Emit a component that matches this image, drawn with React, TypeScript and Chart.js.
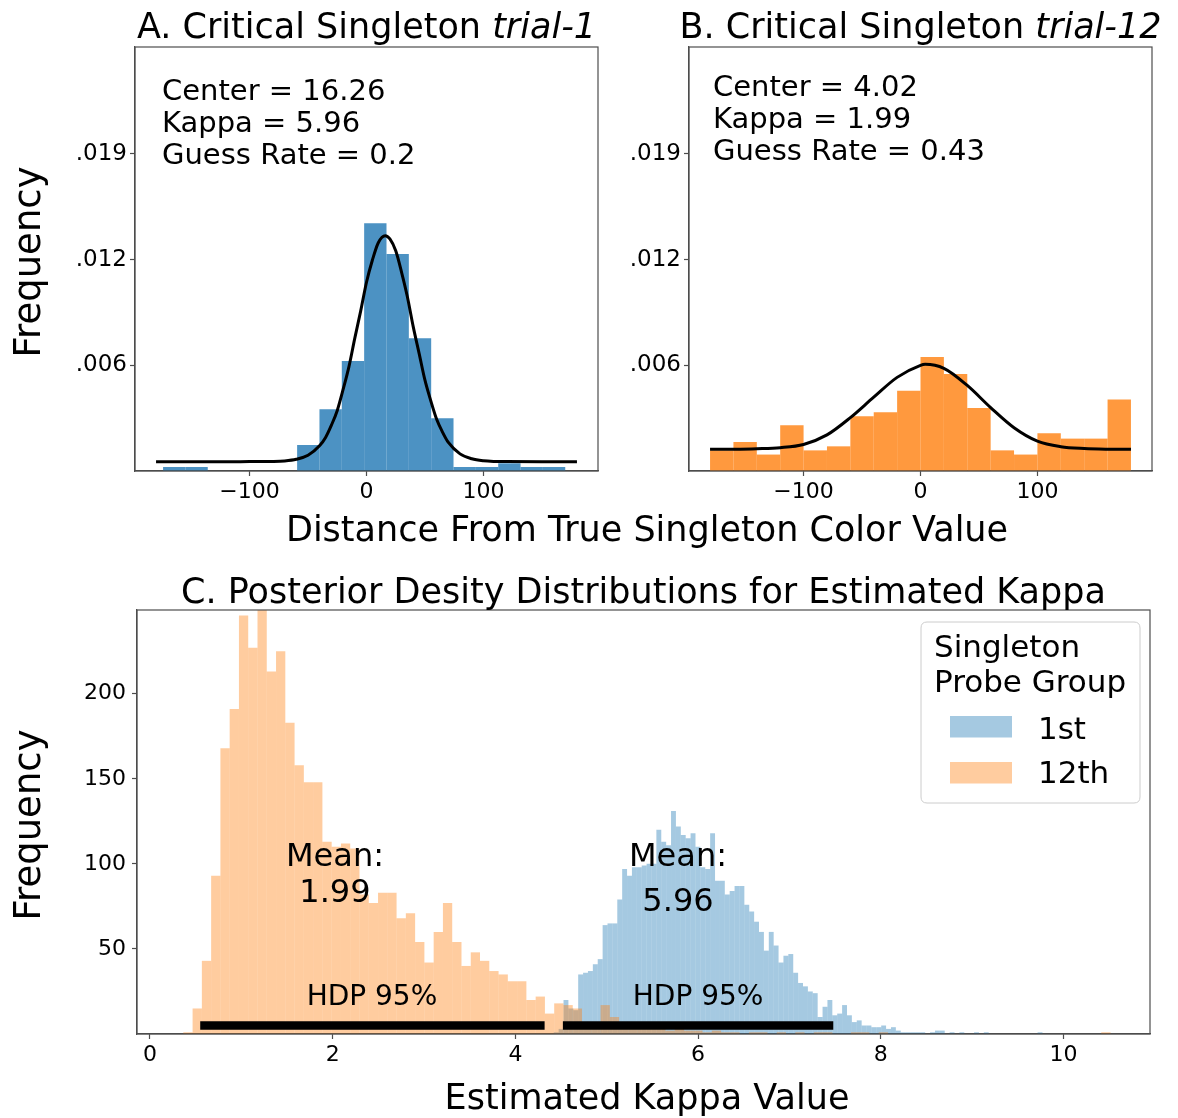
import React, { useEffect, useRef } from 'react';
import { Chart, registerables } from 'chart.js';

Chart.register(...registerables);

const FONT = "'DejaVu Sans', Verdana, sans-serif";
const PAGE_W = 1178;
const PAGE_H = 1118;

// ---------------- Panel A (trial-1) ----------------
const titleA = 'A. Critical Singleton ';
const titleItalicA = 'trial-1';
const statsA = ['Center = 16.26', 'Kappa = 5.96', 'Guess Rate = 0.2'];
const binStartA = -174;
const binWidthA = 19.11;
const countsA = [0.00024, 0.00024, 0, 0, 0, 0, 0.00155, 0.00368, 0.00656, 0.01476, 0.01293, 0.00791, 0.00314, 0.00024, 0.00024, 0.00046, 0.00024, 0.00024];
const curveXA = [-180, -150, -120, -100, -80, -70, -60, -50, -40, -35, -30, -25, -20, -15, -10, -5, 0, 5, 10, 16, 20, 25, 30, 35, 40, 45, 50, 55, 60, 65, 70, 80, 90, 100, 110, 120, 150, 180];
const curveYA = [0.00055, 0.00055, 0.00055, 0.00056, 0.00057, 0.0006, 0.0007, 0.00094, 0.00152, 0.002, 0.00273, 0.00361, 0.00486, 0.00622, 0.00792, 0.00953, 0.01125, 0.01256, 0.01359, 0.01402, 0.01383, 0.01312, 0.01184, 0.01037, 0.00859, 0.00701, 0.00541, 0.00418, 0.00308, 0.00232, 0.0017, 0.00102, 0.00073, 0.00061, 0.00057, 0.00056, 0.00055, 0.00055];

// ---------------- Panel B (trial-12) ----------------
const titleB = 'B. Critical Singleton ';
const titleItalicB = 'trial-12';
const statsB = ['Center = 4.02', 'Kappa = 1.99', 'Guess Rate = 0.43'];
const binStartB = -180;
const binWidthB = 20;
const countsB = [0.00123, 0.00173, 0.00098, 0.00272, 0.00123, 0.00147, 0.00326, 0.0035, 0.00479, 0.00679, 0.00578, 0.00375, 0.00123, 0.00098, 0.00225, 0.00193, 0.00193, 0.00426];
const curveXB = [-180, -160, -140, -120, -100, -80, -60, -40, -20, 0, 4, 20, 40, 60, 80, 100, 120, 140, 160, 180];
const curveYB = [0.00129, 0.0013, 0.00133, 0.00139, 0.00158, 0.00215, 0.00318, 0.0044, 0.00558, 0.0063, 0.00636, 0.00612, 0.0051, 0.00378, 0.00258, 0.00178, 0.00145, 0.00134, 0.0013, 0.00129];

// shared A/B axes
const xMinAB = -198;
const xMaxAB = 198;
const yMaxAB = 0.02527;
const xTicksAB = [-100, 0, 100];
const yTicksAB = [0.0063, 0.0126, 0.0189];
const yTickLabelsAB = ['.006', '.012', '.019'];
const xLabelAB = 'Distance From True Singleton Color Value';
const yLabel = 'Frequency';

// ---------------- Panel C ----------------
const titleC = 'C. Posterior Desity Distributions for Estimated Kappa';
const xLabelC = 'Estimated Kappa Value';
const binStart12 = 0.365;
const binWidth12 = 0.1015;
const counts12 = [
  1, 15, 43, 93, 168, 191, 246, 227, 255, 213,
  225, 183, 158, 148, 148, 113, 110, 112, 109, 82,
  77, 83, 83, 68, 71, 54, 42, 60, 77, 54,
  40, 48, 43, 37, 35, 31, 31, 20, 22, 12,
  18, 17, 15, 7, 7, 17, 10, 5, 6, 4,
  4, 3, 2, 3, 2, 2, 1, 2, 1, 1,
  0, 1, 1, 0, 1, 0, 1, 0, 1, 1,
  0, 0, 1, 1, 0, 1, 0, 0, 0, 0,
  0, 0, 0, 0, 0, 0, 0, 0, 0, 0,
  0, 0, 0, 0, 0, 0, 0, 0, 0, 1,
];
const binStart1 = 4.42;
const binWidth1 = 0.0535;
const counts1 = [
  1, 3, 20, 15, 14, 35, 36, 37, 41, 44,
  64, 65, 65, 79, 97, 93, 98, 98, 99, 100,
  100, 120, 113, 111, 131, 122, 117, 115, 118, 110,
  98, 97, 118, 90, 90, 82, 84, 87, 87, 76,
  72, 66, 60, 49, 60, 52, 42, 46, 47, 36,
  30, 28, 25, 24, 10, 16, 20, 11, 12, 17,
  11, 7, 8, 5, 5, 4, 4, 5, 3, 4,
  2, 1, 1, 1, 1, 1, 0, 1, 2, 2,
  0, 1, 0, 1, 0, 0, 1, 0, 1, 0,
  0, 0, 0, 0, 0, 0, 0, 0, 0, 1,
];
const hdp12 = [0.55, 4.32];
const hdp1 = [4.52, 7.48];
const hdpLevel = 5;
const hdpText = 'HDP 95%';
const mean12 = '1.99';
const mean1 = '5.96';
const meanPos12 = { x: 2.025, y1: 99, y2: 77.5 };
const meanPos1 = { x: 5.78, y1: 98.6, y2: 72.2 };
const hdpTextPos = [{ x: 2.43, y: 17 }, { x: 6.0, y: 17 }];
const xMinC = -0.142;
const xMaxC = 10.947;
const yMaxC = 249.2;
const xTicksC = [0, 2, 4, 6, 8, 10];
const yTicksC = [50, 100, 150, 200];
const legendTitle = ['Singleton', 'Probe Group'];
const legendLabels = ['1st', '12th'];

// colours
const BLUE_SOLID = 'rgba(31,119,180,0.8)';
const ORANGE_SOLID = 'rgba(255,127,14,0.8)';
const BLUE_LIGHT = 'rgba(31,119,180,0.4)';
const ORANGE_LIGHT = 'rgba(255,127,14,0.4)';
const SPINE = '#4d4d4d';

// layout targets (plot areas)
const areaA = { left: 135, top: 47, right: 598, bottom: 471 };
const areaB = { left: 689, top: 47, right: 1152, bottom: 471 };
const areaC = { left: 137, top: 610, right: 1150, bottom: 1034 };
const Y_AXIS_W = 80;
const X_AXIS_H = 40;

function histPoints(start: number, width: number, counts: number[]) {
  return counts.map((c, i) => ({ x: start + width * (i + 0.5), y: c }));
}
function zipPoints(xs: number[], ys: number[]) {
  return xs.map((x, i) => ({ x, y: ys[i] }));
}

function drawFrame(ctx: CanvasRenderingContext2D, a: any) {
  ctx.save();
  ctx.strokeStyle = SPINE;
  ctx.lineWidth = 1.2;
  ctx.strokeRect(a.left, a.top, a.right - a.left, a.bottom - a.top);
  ctx.restore();
}

function drawRich(ctx: CanvasRenderingContext2D, parts: { t: string; i?: boolean }[], cx: number, y: number, size: number) {
  const fonts = parts.map((p) => `${p.i ? 'italic ' : ''}${size}px ${FONT}`);
  let total = 0;
  const widths = parts.map((p, k) => {
    ctx.font = fonts[k];
    const w = ctx.measureText(p.t).width;
    total += w;
    return w;
  });
  let x = cx - total / 2;
  ctx.textAlign = 'left';
  ctx.textBaseline = 'alphabetic';
  ctx.fillStyle = '#000';
  parts.forEach((p, k) => {
    ctx.font = fonts[k];
    ctx.fillText(p.t, x, y);
    x += widths[k];
  });
}

function drawVertical(ctx: CanvasRenderingContext2D, text: string, x: number, cy: number, size: number) {
  ctx.save();
  ctx.translate(x, cy);
  ctx.rotate(-Math.PI / 2);
  ctx.font = `${size}px ${FONT}`;
  ctx.textAlign = 'center';
  ctx.textBaseline = 'alphabetic';
  ctx.fillStyle = '#000';
  ctx.fillText(text, 0, 0);
  ctx.restore();
}

function drawText(ctx: CanvasRenderingContext2D, text: string, x: number, y: number, size: number, align: CanvasTextAlign) {
  ctx.font = `${size}px ${FONT}`;
  ctx.textAlign = align;
  ctx.textBaseline = 'alphabetic';
  ctx.fillStyle = '#000';
  ctx.fillText(text, x, y);
}

function overlay(id: string, draw: (ctx: CanvasRenderingContext2D, a: any, chart: any) => void) {
  return {
    id,
    afterDraw(chart: any) {
      const ctx = chart.ctx;
      ctx.save();
      draw(ctx, chart.chartArea, chart);
      ctx.restore();
    },
  };
}

function paddingFor(area: any) {
  return {
    left: area.left - Y_AXIS_W,
    top: area.top,
    right: PAGE_W - area.right,
    bottom: PAGE_H - area.bottom - X_AXIS_H,
  };
}

const gridTicks = {
  display: true,
  drawOnChartArea: false,
  drawTicks: true,
  tickLength: 5,
  tickWidth: 1.2,
  color: SPINE,
};
const borderOpt = { display: true, color: SPINE, width: 1.2 };
const minus = (v: any) => String(v).replace('-', '\u2212');

function configAB(which: 'A' | 'B') {
  const area = which === 'A' ? areaA : areaB;
  const bars = which === 'A' ? histPoints(binStartA, binWidthA, countsA) : histPoints(binStartB, binWidthB, countsB);
  const curve = which === 'A' ? zipPoints(curveXA, curveYA) : zipPoints(curveXB, curveYB);
  const color = which === 'A' ? BLUE_SOLID : ORANGE_SOLID;
  const title = which === 'A' ? [{ t: titleA }, { t: titleItalicA, i: true }] : [{ t: titleB }, { t: titleItalicB, i: true }];
  const stats = which === 'A' ? statsA : statsB;
  const statsDx = which === 'A' ? 27 : 24;
  const statsY0 = which === 'A' ? 53 : 49;

  const plugin = overlay('overlay' + which, (ctx, a) => {
    drawFrame(ctx, a);
    drawRich(ctx, title, (a.left + a.right) / 2, 38, 35);
    stats.forEach((s, i) => drawText(ctx, s, a.left + statsDx, a.top + statsY0 + 32 * i, 29, 'left'));
    if (which === 'A') {
      drawVertical(ctx, yLabel, 40, (a.top + a.bottom) / 2 + 3, 37);
      drawText(ctx, xLabelAB, 647, 541, 35, 'center');
    }
  });

  return {
    type: 'bar',
    data: {
      datasets: [
        {
          type: 'line',
          data: curve,
          borderColor: '#000',
          borderWidth: 3,
          pointRadius: 0,
          fill: false,
          cubicInterpolationMode: 'monotone',
          order: 0,
        },
        {
          type: 'bar',
          data: bars,
          backgroundColor: color,
          borderWidth: 0,
          inflateAmount: 0,
          barPercentage: 1,
          categoryPercentage: 1,
          grouped: false,
          order: 1,
        },
      ],
    },
    options: {
      animation: false,
      responsive: false,
      devicePixelRatio: 1,
      events: [],
      layout: { padding: paddingFor(area) },
      plugins: { legend: { display: false }, tooltip: { enabled: false }, title: { display: false } },
      scales: {
        x: {
          type: 'linear',
          min: xMinAB,
          max: xMaxAB,
          offset: false,
          afterBuildTicks: (s: any) => {
            s.ticks = xTicksAB.map((v) => ({ value: v }));
          },
          afterFit: (s: any) => {
            s.height = X_AXIS_H;
          },
          ticks: { font: { family: FONT, size: 22 }, color: '#000', padding: 3, maxRotation: 0, autoSkip: false, callback: (v: any) => minus(v) },
          grid: { ...gridTicks, offset: false },
          border: borderOpt,
        },
        y: {
          type: 'linear',
          min: 0,
          max: yMaxAB,
          afterBuildTicks: (s: any) => {
            s.ticks = yTicksAB.map((v) => ({ value: v }));
          },
          afterFit: (s: any) => {
            s.width = Y_AXIS_W;
          },
          ticks: { font: { family: FONT, size: 23 }, color: '#000', padding: 3, autoSkip: false, callback: (_v: any, i: number) => yTickLabelsAB[i] },
          grid: gridTicks,
          border: borderOpt,
        },
      },
    },
    plugins: [plugin],
  };
}

function configC() {
  const plugin = overlay('overlayC', (ctx, a, chart) => {
    const xs = chart.scales.x;
    const ys = chart.scales.y;
    drawFrame(ctx, a);
    drawText(ctx, titleC, (a.left + a.right) / 2, 603, 35, 'center');
    drawVertical(ctx, yLabel, 40, (a.top + a.bottom) / 2 + 3, 37);
    drawText(ctx, xLabelC, 647, 1109, 35, 'center');
    // mean annotations
    drawText(ctx, 'Mean:', xs.getPixelForValue(meanPos12.x), ys.getPixelForValue(meanPos12.y1), 32, 'center');
    drawText(ctx, mean12, xs.getPixelForValue(meanPos12.x), ys.getPixelForValue(meanPos12.y2), 32, 'center');
    drawText(ctx, 'Mean:', xs.getPixelForValue(meanPos1.x), ys.getPixelForValue(meanPos1.y1), 32, 'center');
    drawText(ctx, mean1, xs.getPixelForValue(meanPos1.x), ys.getPixelForValue(meanPos1.y2), 32, 'center');
    hdpTextPos.forEach((p) => drawText(ctx, hdpText, xs.getPixelForValue(p.x), ys.getPixelForValue(p.y), 28, 'center'));
    // legend
    const lx = a.right - 229;
    const ly = a.top + 12;
    const lw = 219;
    const lh = 181;
    const r = 6;
    ctx.beginPath();
    ctx.moveTo(lx + r, ly);
    ctx.lineTo(lx + lw - r, ly);
    ctx.quadraticCurveTo(lx + lw, ly, lx + lw, ly + r);
    ctx.lineTo(lx + lw, ly + lh - r);
    ctx.quadraticCurveTo(lx + lw, ly + lh, lx + lw - r, ly + lh);
    ctx.lineTo(lx + r, ly + lh);
    ctx.quadraticCurveTo(lx, ly + lh, lx, ly + lh - r);
    ctx.lineTo(lx, ly + r);
    ctx.quadraticCurveTo(lx, ly, lx + r, ly);
    ctx.closePath();
    ctx.fillStyle = 'rgba(255,255,255,0.8)';
    ctx.fill();
    ctx.strokeStyle = '#cccccc';
    ctx.lineWidth = 1;
    ctx.stroke();
    drawText(ctx, legendTitle[0], lx + 13, ly + 35, 31, 'left');
    drawText(ctx, legendTitle[1], lx + 13, ly + 70, 31, 'left');
    ctx.fillStyle = BLUE_LIGHT;
    ctx.fillRect(lx + 29, ly + 94, 62, 21.5);
    ctx.fillStyle = ORANGE_LIGHT;
    ctx.fillRect(lx + 29, ly + 140, 62, 21.5);
    drawText(ctx, legendLabels[0], lx + 117, ly + 116.5, 31, 'left');
    drawText(ctx, legendLabels[1], lx + 117, ly + 161, 31, 'left');
  });

  const hiddenX = () => ({
    type: 'linear',
    display: false,
    min: xMinC,
    max: xMaxC,
    offset: false,
  });

  return {
    type: 'bar',
    data: {
      datasets: [
        {
          type: 'line',
          data: [{ x: hdp12[0], y: hdpLevel }, { x: hdp12[1], y: hdpLevel }],
          xAxisID: 'x',
          borderColor: '#000',
          borderWidth: 8.5,
          borderCapStyle: 'butt',
          pointRadius: 0,
          fill: false,
          order: 0,
        },
        {
          type: 'line',
          data: [{ x: hdp1[0], y: hdpLevel }, { x: hdp1[1], y: hdpLevel }],
          xAxisID: 'x',
          borderColor: '#000',
          borderWidth: 8.5,
          borderCapStyle: 'butt',
          pointRadius: 0,
          fill: false,
          order: 0,
        },
        {
          type: 'bar',
          label: legendLabels[1],
          data: histPoints(binStart12, binWidth12, counts12),
          xAxisID: 'x',
          backgroundColor: ORANGE_LIGHT,
          borderWidth: 0,
          inflateAmount: 0,
          barPercentage: 1,
          categoryPercentage: 1,
          grouped: false,
          order: 1,
        },
        {
          type: 'bar',
          label: legendLabels[0],
          data: histPoints(binStart1, binWidth1, counts1),
          xAxisID: 'xb',
          backgroundColor: BLUE_LIGHT,
          borderWidth: 0,
          inflateAmount: 0,
          barPercentage: 1,
          categoryPercentage: 1,
          grouped: false,
          order: 2,
        },
      ],
    },
    options: {
      animation: false,
      responsive: false,
      devicePixelRatio: 1,
      events: [],
      layout: { padding: paddingFor(areaC) },
      plugins: { legend: { display: false }, tooltip: { enabled: false }, title: { display: false } },
      scales: {
        x: {
          type: 'linear',
          min: xMinC,
          max: xMaxC,
          offset: false,
          afterBuildTicks: (s: any) => {
            s.ticks = xTicksC.map((v) => ({ value: v }));
          },
          afterFit: (s: any) => {
            s.height = X_AXIS_H;
          },
          ticks: { font: { family: FONT, size: 22 }, color: '#000', padding: 3, maxRotation: 0, autoSkip: false, callback: (v: any) => String(v) },
          grid: { ...gridTicks, offset: false },
          border: borderOpt,
        },
        xb: hiddenX(),
        y: {
          type: 'linear',
          min: 0,
          max: yMaxC,
          afterBuildTicks: (s: any) => {
            s.ticks = yTicksC.map((v) => ({ value: v }));
          },
          afterFit: (s: any) => {
            s.width = Y_AXIS_W;
          },
          ticks: { font: { family: FONT, size: 22 }, color: '#000', padding: 6, autoSkip: false, callback: (v: any) => String(v) },
          grid: gridTicks,
          border: borderOpt,
        },
      },
    },
    plugins: [plugin],
  };
}

function ChartCanvas({ make }: { make: () => any }) {
  const ref = useRef<HTMLCanvasElement | null>(null);
  useEffect(() => {
    if (!ref.current) return;
    const chart = new Chart(ref.current, make());
    return () => chart.destroy();
  }, [make]);
  return (
    <canvas
      ref={ref}
      width={PAGE_W}
      height={PAGE_H}
      style={{ position: 'absolute', left: 0, top: 0, width: PAGE_W, height: PAGE_H }}
    />
  );
}

const makeA = () => configAB('A');
const makeB = () => configAB('B');
const makeC = () => configC();

export default function App() {
  return (
    <div style={{ position: 'absolute', left: 0, top: 0, width: PAGE_W, height: PAGE_H, background: '#fff' }}>
      <ChartCanvas make={makeC} />
      <ChartCanvas make={makeB} />
      <ChartCanvas make={makeA} />
    </div>
  );
}
